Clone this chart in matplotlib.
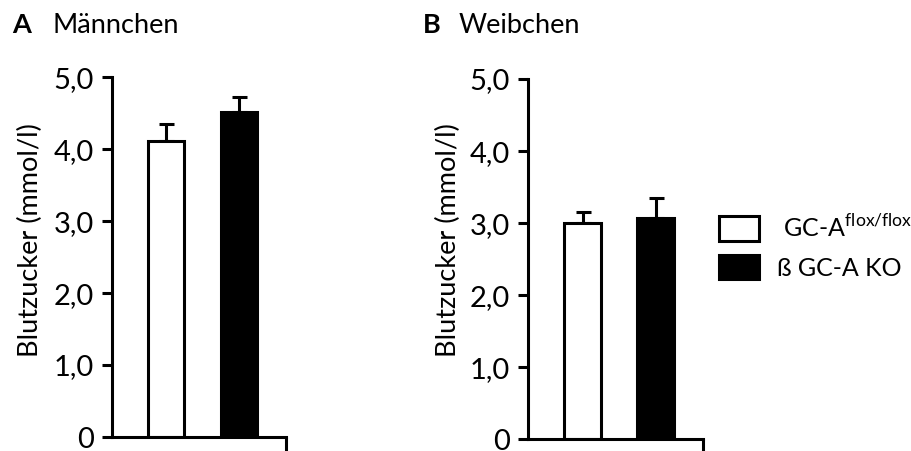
import matplotlib.pyplot as plt
from matplotlib.patches import Patch

plt.rcParams['font.family'] = ['Lato', 'DejaVu Sans']
plt.rcParams['mathtext.fontset'] = 'custom'
plt.rcParams['mathtext.rm'] = 'Lato'

gruppen = ["GC-A flox/flox", "ß GC-A KO"]
maennchen = [4.11, 4.51]
maennchen_fehler = [0.24, 0.21]
weibchen = [3.00, 3.07]
weibchen_fehler = [0.15, 0.28]
yticks = [0, 1, 2, 3, 4, 5]
ytick_labels = ["0", "1,0", "2,0", "3,0", "4,0", "5,0"]

farben = ["white", "black"]
pos = [1.5, 3.5]
lw = 2.2
fs = 19.5
fs_tick = 21
fs_leg = 18

fig = plt.figure(figsize=(9.12, 4.51), dpi=100)
axA = fig.add_axes([0.1228, 0.031, 0.1908, 0.798])
axB = fig.add_axes([0.5789, 0.026, 0.1919, 0.7988])


def panel(ax, werte, fehler, lab_x, lab_y):
    for i in range(2):
        ax.errorbar(pos[i], werte[i], yerr=[[0], [fehler[i]]], fmt="none",
                    ecolor="black", elinewidth=lw, capsize=5.4, capthick=lw, zorder=1)
    ax.bar(pos, werte, width=1.0, color=farben, edgecolor="black",
           linewidth=lw, zorder=2)
    ax.set_xlim(0, 4.8)
    ax.set_ylim(0, 5)
    ax.set_yticks(yticks)
    ax.set_yticklabels(ytick_labels)
    ax.set_xticks([4.8])
    ax.set_xticklabels([""])
    for s in ["top", "right"]:
        ax.spines[s].set_visible(False)
    for s in ["left", "bottom"]:
        ax.spines[s].set_linewidth(lw)
        ax.spines[s].set_zorder(3)
    ax.tick_params(axis="y", direction="out", length=7, width=lw,
                   labelsize=fs_tick, pad=6)
    ax.tick_params(axis="x", direction="out", length=10, width=lw)
    ax.set_ylabel("Blutzucker (mmol/l)", fontsize=fs)
    ax.yaxis.set_label_coords(lab_x, lab_y)


panel(axA, maennchen, maennchen_fehler, -0.397, 0.547)
panel(axB, weibchen, weibchen_fehler, -0.383, 0.552)

fig.text(12 / 912, 1 - 33 / 451, "A", fontsize=fs, fontweight="bold", ha="left", va="baseline")
fig.text(53 / 912, 1 - 33 / 451, "Männchen", fontsize=fs, ha="left", va="baseline")
fig.text(423 / 912, 1 - 33 / 451, "B", fontsize=fs, fontweight="bold", ha="left", va="baseline")
fig.text(459 / 912, 1 - 33 / 451, "Weibchen", fontsize=fs, ha="left", va="baseline")

handles = [Patch(facecolor=farben[0], edgecolor="black", linewidth=lw),
           Patch(facecolor=farben[1], edgecolor="black", linewidth=lw)]
labels = [" GC-A$^{\\mathregular{flox/flox}}$", gruppen[1]]
fig.legend(handles, labels, loc="upper left", bbox_to_anchor=(719 / 912, 1 - 214 / 451),
           frameon=False, fontsize=fs_leg, borderpad=0, borderaxespad=0,
           handlelength=1.6, handleheight=1.12, handletextpad=0.72, labelspacing=0.56)

fig.savefig("out.png", dpi=100)
